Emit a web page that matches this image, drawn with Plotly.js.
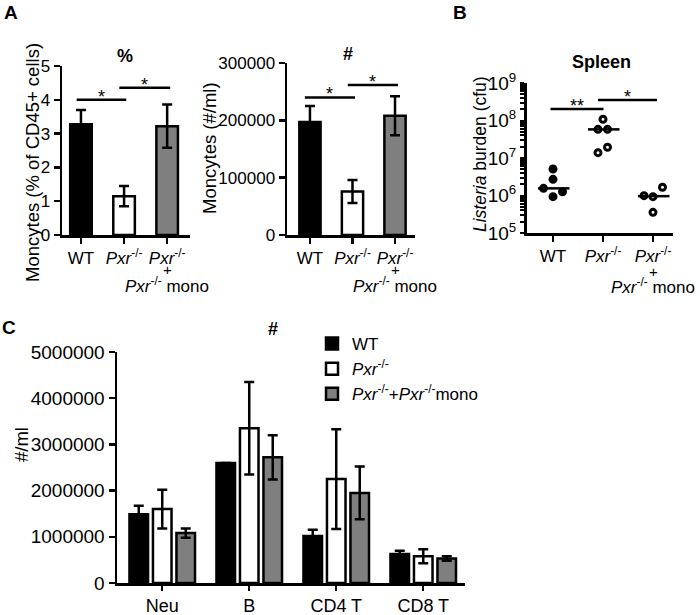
<!DOCTYPE html>
<html>
<head>
<meta charset="utf-8">
<script src="https://cdn.plot.ly/plotly-3.0.1.min.js"></script>
<style>html,body{margin:0;padding:0;background:#fff;}#chart{width:700px;height:615px;}</style>
</head>
<body>
<div id="chart"></div>
<script>
// ---------- DATA ----------
const catLabels = ['WT', '<i>Pxr</i><sup>-/-</sup>', '<i>Pxr</i><sup>-/-</sup>'];
const catSub = ['+', '<i>Pxr</i><sup>-/-</sup> mono'];
const groupColors = ['#000000', '#ffffff', '#7f7f7f'];

// Panel A (%)
const aPctMean = [3.28, 1.15, 3.22];
const aPctErr = [0.42, 0.30, 0.64];
const sigA1X0 = [-0.1, 0.89];
const sigA1X1 = [1.05, 2.07];
const sigA1Y = [4.0, 4.36];
const sigA1Lab = ['*', '*'];

// Panel A (#)
const aNumMean = [197000, 76000, 208000];
const aNumErr = [28000, 20000, 34000];
const sigA2X0 = [-0.12, 0.89];
const sigA2X1 = [1.06, 2.07];
const sigA2Y = [240000, 261600];
const sigA2Lab = ['*', '*'];

// Panel B (Listeria burden, cfu)
const bWTx = [0, 0, -0.19, 0.19, 0];
const bWTy = [5.1e6, 2.7e6, 1.55e6, 1.26e6, 0.93e6];
const bPxrX = [1.0, 0.9, 1.09, 1.09, 0.9];
const bPxrY = [1.08e8, 5.8e7, 5.8e7, 1.93e7, 1.39e7];
const bMonoX = [1.82, 2.0, 2.19, 2.0];
const bMonoY = [0.99e6, 0.93e6, 1.66e6, 3.56e5];
const bMedian = [1.55e6, 5.8e7, 0.96e6];
const sigBX0 = [-0.05, 0.9];
const sigBX1 = [1.01, 2.08];
const sigBY = [2.03e8, 3.5e8];
const sigBLab = ['**', '*'];
const bTickVals = [1e5, 1e6, 1e7, 1e8, 1e9];
const bTickText = ['10<sup>5</sup>', '10<sup>6</sup>', '10<sup>7</sup>', '10<sup>8</sup>', '10<sup>9</sup>'];

// Panel C
const cCats = ['Neu', 'B', 'CD4 T', 'CD8 T'];
const cNames = ['WT', '<i>Pxr</i><sup>-/-</sup>', '<i>Pxr</i><sup>-/-</sup>+<i>Pxr</i><sup>-/-</sup>mono'];
const cWT = [1490000, 2600000, 1020000, 630000];
const cWTerr = [180000, 0, 130000, 70000];
const cPxr = [1600000, 3350000, 2250000, 580000];
const cPxrErr = [420000, 1000000, 1080000, 150000];
const cMono = [1080000, 2720000, 1950000, 530000];
const cMonoErr = [100000, 480000, 570000, 50000];

// ---------- STYLE ----------
const FONT = 'Liberation Sans, Arial, Helvetica, sans-serif';
const LW = 2.5;
const W = 700, H = 615;
const px = v => v / W;
const py = v => 1 - v / H;

const traces = [];
const annotations = [];

function errBar(arr) {
  return {type: 'data', array: arr, visible: true, color: '#000', thickness: LW, width: 5};
}
function sigLines(x0, x1, y, lab, xa, ya, isLog) {
  for (let i = 0; i < x0.length; i++) {
    traces.push({type: 'scatter', mode: 'lines', x: [x0[i], x1[i]], y: [y[i], y[i]],
      xaxis: xa, yaxis: ya, line: {color: '#000', width: LW}, showlegend: false, hoverinfo: 'skip'});
    annotations.push({xref: xa, yref: ya, x: (x0[i] + x1[i]) / 2, y: isLog ? Math.log10(y[i]) : y[i],
      text: lab[i], showarrow: false, yanchor: 'bottom', yshift: -9,
      font: {family: FONT, size: 18, color: '#000'}});
  }
}

// Panel A1
traces.push({type: 'bar', x: [0, 1, 2], y: aPctMean, width: 0.5, xaxis: 'x', yaxis: 'y',
  marker: {color: groupColors, line: {color: '#000', width: LW}}, error_y: errBar(aPctErr),
  showlegend: false, hoverinfo: 'skip'});
sigLines(sigA1X0, sigA1X1, sigA1Y, sigA1Lab, 'x', 'y', false);

// Panel A2
traces.push({type: 'bar', x: [0, 1, 2], y: aNumMean, width: 0.5, xaxis: 'x2', yaxis: 'y2',
  marker: {color: groupColors, line: {color: '#000', width: LW}}, error_y: errBar(aNumErr),
  showlegend: false, hoverinfo: 'skip'});
sigLines(sigA2X0, sigA2X1, sigA2Y, sigA2Lab, 'x2', 'y2', false);

// Panel B
traces.push({type: 'scatter', mode: 'markers', x: bWTx, y: bWTy, xaxis: 'x3', yaxis: 'y3',
  marker: {symbol: 'circle', size: 6, color: '#000', line: {color: '#000', width: 3}}, showlegend: false});
traces.push({type: 'scatter', mode: 'markers', x: bPxrX, y: bPxrY, xaxis: 'x3', yaxis: 'y3',
  marker: {symbol: 'circle', size: 6, color: '#fff', line: {color: '#000', width: 3}}, showlegend: false});
traces.push({type: 'scatter', mode: 'markers', x: bMonoX, y: bMonoY, xaxis: 'x3', yaxis: 'y3',
  marker: {symbol: 'circle', size: 6, color: '#fff', line: {color: '#000', width: 3}}, showlegend: false});
bMedian.forEach((m, i) => {
  traces.push({type: 'scatter', mode: 'lines', x: [i - 0.3, i + 0.33], y: [m, m], xaxis: 'x3', yaxis: 'y3',
    line: {color: '#000', width: LW}, showlegend: false, hoverinfo: 'skip'});
});
sigLines(sigBX0, sigBX1, sigBY, sigBLab, 'x3', 'y3', true);

// tick positions for the log axis: decades (labelled) plus 2..9 per decade (unlabelled)
const bMinorTicks = [];
for (let d = 5; d < 9; d++) for (let k = 2; k <= 9; k++) bMinorTicks.push(k * Math.pow(10, d));
const bAllTicks = bTickVals.concat(bMinorTicks);
const bAllText = bTickText.concat(bMinorTicks.map(() => ''));

// Panel C
const cMeans = [cWT, cPxr, cMono];
const cErrs = [cWTerr, cPxrErr, cMonoErr];
for (let g = 0; g < 3; g++) {
  traces.push({type: 'bar', x: cCats, y: cMeans[g], name: cNames[g], xaxis: 'x4', yaxis: 'y4',
    marker: {color: groupColors[g], line: {color: '#000', width: LW}}, error_y: errBar(cErrs[g]),
    showlegend: true, hoverinfo: 'skip'});
}

// ---------- AXES ----------
function baseAxis(extra) {
  return Object.assign({showline: true, linecolor: '#000', linewidth: LW, ticks: 'outside', ticklen: 6,
    tickwidth: LW, tickcolor: '#000', showgrid: false, zeroline: false, fixedrange: true,
    tickfont: {family: FONT, size: 17, color: '#000'}}, extra);
}

const layout = {
  width: W, height: H,
  margin: {l: 0, r: 0, t: 0, b: 0},
  paper_bgcolor: '#fff', plot_bgcolor: 'rgba(0,0,0,0)',
  font: {family: FONT, color: '#000'},
  barmode: 'group', bargap: 0.19, bargroupgap: 0.21,
  showlegend: true,
  legend: {x: px(312), y: py(326), xanchor: 'left', yanchor: 'top', bgcolor: 'rgba(0,0,0,0)',
    font: {family: FONT, size: 17, color: '#000'}, tracegroupgap: 0},
  xaxis: baseAxis({domain: [px(62), px(190)], range: [-0.44, 2.53], anchor: 'y',
    tickmode: 'array', tickvals: [0, 1, 2], ticktext: catLabels}),
  yaxis: baseAxis({domain: [py(235), py(66)], range: [0, 5], dtick: 1, anchor: 'x'}),
  xaxis2: baseAxis({domain: [px(287), px(415)], range: [-0.54, 2.47], anchor: 'y2',
    tickmode: 'array', tickvals: [0, 1, 2], ticktext: catLabels}),
  yaxis2: baseAxis({domain: [py(235), py(63)], range: [0, 300000], dtick: 100000, tickformat: 'd', anchor: 'x2'}),
  xaxis3: baseAxis({domain: [px(527), px(673)], range: [-0.52, 2.4], anchor: 'y3',
    tickmode: 'array', tickvals: [0, 1, 2], ticktext: catLabels}),
  yaxis3: baseAxis({domain: [py(233), py(83)], type: 'log', range: [5, 9], anchor: 'x3', linewidth: 3,
    tickmode: 'array', tickvals: bAllTicks, ticktext: bAllText, ticklen: 4, tickwidth: 2,
    tickfont: {family: FONT, size: 19, color: '#000'}}),
  xaxis4: baseAxis({domain: [px(117), px(465)], range: [-0.52, 3.48], anchor: 'y4', ticklen: 5,
    tickfont: {family: FONT, size: 18, color: '#000'}}),
  yaxis4: baseAxis({domain: [py(583), py(352)], range: [0, 5000000], dtick: 1000000, tickformat: 'd', anchor: 'x4',
    tickfont: {family: FONT, size: 19, color: '#000'}}),
  annotations: annotations
};

function txt(x, y, text, size, opts) {
  annotations.push(Object.assign({xref: 'paper', yref: 'paper', x: px(x), y: py(y), text: text,
    showarrow: false, xanchor: 'center', yanchor: 'middle', font: {family: FONT, size: size, color: '#000'}}, opts || {}));
}
// panel letters
txt(11, 12, '<b>A</b>', 19);
txt(460, 12, '<b>B</b>', 19);
txt(9, 327, '<b>C</b>', 19);
// panel titles
txt(125, 56, '<b>%</b>', 18);
txt(348, 54, '<b>#</b>', 18);
txt(601, 62, '<b>Spleen</b>', 18);
txt(273, 329, '<b>#</b>', 18);
// y titles
txt(33, 163, 'Moncytes (% of CD45+ cells)', 18.5, {textangle: -90});
txt(209, 148, 'Moncytes (#/ml)', 18.5, {textangle: -90});
txt(480, 154, '<i>Listeria</i> burden (cfu)', 17.5, {textangle: -90});
txt(21, 445, '#/ml', 18.5, {textangle: -90});
// extra lines of third category label
[['x', 270, 285], ['x2', 270, 285], ['x3', 271, 286]].forEach(a => {
  annotations.push({xref: a[0], yref: 'paper', x: 2, y: py(a[1]), text: catSub[0], showarrow: false,
    yanchor: 'middle', font: {family: FONT, size: 15, color: '#000'}});
  annotations.push({xref: a[0], yref: 'paper', x: 2, y: py(a[2]), text: catSub[1], showarrow: false,
    yanchor: 'middle', font: {family: FONT, size: 17, color: '#000'}});
});

Plotly.newPlot('chart', traces, layout, {staticPlot: true, displayModeBar: false});
</script>
</body>
</html>
